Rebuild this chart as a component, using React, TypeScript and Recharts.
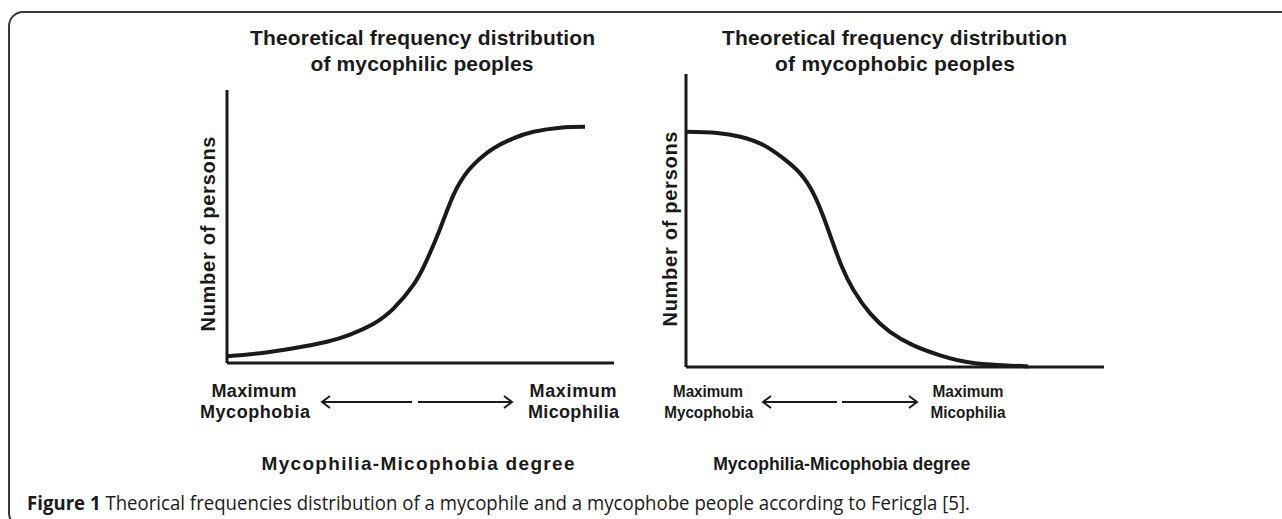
import { LineChart, Line, XAxis, YAxis, ReferenceLine } from "recharts";

// degree on the x axis (0 = max mycophobia, 100 = max micophilia), persons in % of axis height
const philicDegree = [0, 8.6, 17.2, 25.8, 31.8, 37.9, 43.0, 48.2, 51.6, 55.1, 58.5, 62.0, 65.4, 68.8, 74.0, 79.2, 86.1, 92.5];
const philicPersons = [2.5, 3.6, 5.4, 7.8, 10.4, 14.4, 19.9, 28.7, 37.6, 49.3, 61.5, 69.9, 74.9, 78.6, 82.3, 84.7, 86.2, 86.5];

const phobicDegree = [0, 7.4, 13.0, 18.6, 23.3, 27.3, 30.5, 32.9, 34.9, 37.3, 40.1, 44.1, 48.8, 54.4, 60.8, 68.8, 81.9];
const phobicPersons = [80.3, 79.9, 78.6, 75.7, 71.2, 66.1, 59.2, 51.2, 43.3, 34.2, 26.2, 18.2, 12.0, 7.4, 4.0, 1.4, 0.2];

const titles = [
  ["Theoretical frequency distribution", "of mycophilic peoples"],
  ["Theoretical frequency distribution", "of mycophobic peoples"],
];
const yLabel = "Number of persons";
const leftEnd = ["Maximum", "Mycophobia"];
const rightEnd = ["Maximum", "Micophilia"];
const xLabel = "Mycophilia-Micophobia degree";
const captionBold = "Figure 1";
const captionText = " Theorical frequencies distribution of a mycophile and a mycophobe people according to Fericgla [5].";

const philicData = philicDegree.map((d, i) => ({ degree: d, persons: philicPersons[i] }));
const phobicData = phobicDegree.map((d, i) => ({ degree: d, persons: phobicPersons[i] }));

const INK = "#1a1a1a";
const FONT = "'Liberation Sans', Arial, sans-serif";

function Curve({ data, width, height, margin }: any) {
  return (
    <LineChart width={width} height={height} data={data} margin={margin}>
      <XAxis dataKey="degree" type="number" domain={[0, 100]} hide />
      <YAxis type="number" domain={[0, 100]} hide />
      <ReferenceLine x={0} stroke={INK} strokeWidth={3} />
      <ReferenceLine y={0} stroke={INK} strokeWidth={3} />
      <Line
        dataKey="persons"
        type="natural"
        stroke={INK}
        strokeWidth={4}
        dot={false}
        isAnimationActive={false}
      />
    </LineChart>
  );
}

function Arrows({ x1, x2, x3, x4, y }: any) {
  return (
    <g stroke={INK} strokeWidth={2} fill="none">
      <line x1={x1} y1={y} x2={x2} y2={y} />
      <path d={`M${x1 + 8},${y - 6} L${x1},${y} L${x1 + 8},${y + 6}`} />
      <line x1={x3} y1={y} x2={x4} y2={y} />
      <path d={`M${x4 - 8},${y - 6} L${x4},${y} L${x4 - 8},${y + 6}`} />
    </g>
  );
}

function T({ x, y, len, size = 18, squeeze = false, children }: any) {
  return (
    <text
      x={x}
      y={y}
      textAnchor="middle"
      fontFamily={FONT}
      fontWeight="bold"
      fontSize={size}
      fill={INK}
      textLength={len}
      lengthAdjust={squeeze ? "spacingAndGlyphs" : "spacing"}
    >
      {children}
    </text>
  );
}

export default function App() {
  return (
    <div style={{ position: "absolute", left: 0, top: 0, width: 1282, height: 519, background: "#fff", overflow: "hidden" }}>
      <div style={{ position: "absolute", left: 0, top: 0 }}>
        <Curve data={philicData} width={640} height={519} margin={{ top: 90, left: 227, right: 26, bottom: 156 }} />
      </div>
      <div style={{ position: "absolute", left: 640, top: 0 }}>
        <Curve data={phobicData} width={642} height={519} margin={{ top: 74, left: 46, right: 178, bottom: 152 }} />
      </div>
      <svg width={1282} height={519} style={{ position: "absolute", left: 0, top: 0, pointerEvents: "none" }}>
        <rect x={9} y={12} width={1300} height={515} rx={14} fill="none" stroke="#3a3a3a" strokeWidth={2} />

        <T x={422.5} y={45} len={345} size={21}>{titles[0][0]}</T>
        <T x={422} y={71} len={223} size={21}>{titles[0][1]}</T>
        <T x={894.5} y={45} len={345} size={21}>{titles[1][0]}</T>
        <T x={895} y={71} len={240} size={21}>{titles[1][1]}</T>

        <g transform="rotate(-90 215 234)">
          <T x={215} y={234} len={195} size={20}>{yLabel}</T>
        </g>
        <g transform="rotate(-90 677 229)">
          <T x={677} y={229} len={195} size={20}>{yLabel}</T>
        </g>

        <T x={254} y={397} len={85}>{leftEnd[0]}</T>
        <T x={255} y={418} len={110}>{leftEnd[1]}</T>
        <T x={573} y={397} len={87}>{rightEnd[0]}</T>
        <T x={573.5} y={418} len={91}>{rightEnd[1]}</T>
        <Arrows x1={322} x2={412} x3={418} x4={512} y={402} />
        <T x={418} y={470} len={313} size={19}>{xLabel}</T>

        <T x={708} y={397} len={70} size={17} squeeze>{leftEnd[0]}</T>
        <T x={708.7} y={418} len={89} size={17} squeeze>{leftEnd[1]}</T>
        <T x={968} y={397} len={71} size={17} squeeze>{rightEnd[0]}</T>
        <T x={968} y={418} len={75} size={17} squeeze>{rightEnd[1]}</T>
        <Arrows x1={763} x2={837} x3={842} x4={917} y={402} />
        <T x={841.7} y={470} len={257} size={19} squeeze>{xLabel}</T>

        <text x={27} y={510} fontFamily="'Open Sans', 'Noto Sans', sans-serif" fontSize={20} fill={INK} textLength={943} lengthAdjust="spacingAndGlyphs">
          <tspan fontWeight="bold">{captionBold}</tspan>
          <tspan>{captionText}</tspan>
        </text>
      </svg>
    </div>
  );
}
